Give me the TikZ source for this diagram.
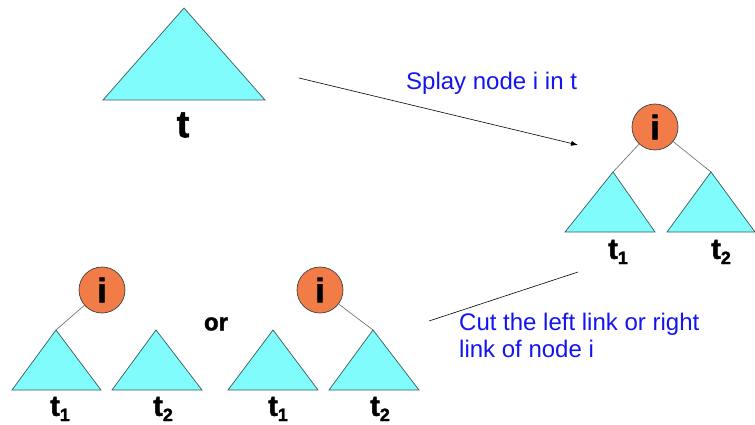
\documentclass[tikz,border=0pt]{standalone}
\usepackage{fontspec}
\setmainfont{Liberation Sans}
\newfontfamily\heavy[FakeBold=1.6]{Liberation Sans Bold}
\usetikzlibrary{arrows.meta}
\definecolor{tri}{RGB}{128,252,252}
\definecolor{triline}{RGB}{60,90,90}
\definecolor{org}{RGB}{242,124,72}
\definecolor{txtblue}{RGB}{20,20,240}
\newcommand{\tsub}[1]{t\raisebox{-0.18em}{\fontsize{18}{18}\selectfont #1}}
\begin{document}
\begin{tikzpicture}[x=1pt,y=-1pt,
  trishape/.style={fill=tri,draw=triline,line width=0.7pt},
  inode/.style={circle,fill=org,draw=black!75,line width=0.7pt,minimum size=46pt,inner sep=0pt,font=\fontsize{34}{34}\selectfont\heavy},
  tlab/.style={font=\fontsize{29}{29}\selectfont\heavy,inner sep=0pt},
  link/.style={draw=black!60,line width=0.6pt},
  bluetxt/.style={text=txtblue,font=\fontsize{24}{27}\selectfont,inner sep=0pt}]
\useasboundingbox (0,0) rectangle (755,425);
% top tree t
\coordinate (ta) at (184,8);
\fill[trishape] (ta) -- (103,100) -- (265,100) -- cycle;
\node[tlab,font=\fontsize{38}{38}\selectfont\heavy] (tl) at (183,125) {t};
% arrow
\coordinate (a1) at (299,78);
\coordinate (a2) at (578,145);
\draw[-{Latex[length=7pt,width=5pt]},line width=0.6pt] (a1) -- (a2);
\node[bluetxt,anchor=west] (splay) at (406,83) {Splay node i in t};
% right tree
\node[inode] (ir) at (655,127) {i};
\coordinate (r1) at (613,172);
\coordinate (r2) at (711,172);
\draw[link] (ir) -- (r1);
\draw[link] (ir) -- (r2);
\fill[trishape] (r1) -- (565,232) -- (655,232) -- cycle;
\fill[trishape] (r2) -- (667,232) -- (755,232) -- cycle;
\node[tlab] (rt1) at (618,252) {\tsub{1}};
\node[tlab] (rt2) at (721,252) {\tsub{2}};
% second connector
\coordinate (c1) at (578,272);
\coordinate (c2) at (429,321);
\draw[line width=0.6pt] (c1) -- (c2);
\node[bluetxt,anchor=north west,align=left] (cut) at (459,313) {Cut the left link or right\\link of node i};
% bottom left
\node[inode] (il) at (102,290) {i};
\coordinate (l1) at (56,330);
\coordinate (l2) at (156,330);
\draw[link] (il) -- (l1);
\fill[trishape] (l1) -- (12,390) -- (101,390) -- cycle;
\fill[trishape] (l2) -- (112,390) -- (202,390) -- cycle;
\node[tlab] (lt1) at (60,409) {\tsub{1}};
\node[tlab] (lt2) at (163,409) {\tsub{2}};
\node[font=\fontsize{24}{24}\selectfont\heavy,inner sep=0pt] (or) at (216,324) {or};
% bottom right
\node[inode] (im) at (320,290) {i};
\coordinate (m1) at (273,330);
\coordinate (m2) at (373,330);
\draw[link] (im) -- (m2);
\fill[trishape] (m1) -- (228,390) -- (318,390) -- cycle;
\fill[trishape] (m2) -- (329,390) -- (419,390) -- cycle;
\node[tlab] (mt1) at (278,409) {\tsub{1}};
\node[tlab] (mt2) at (380,409) {\tsub{2}};
\end{tikzpicture}
\end{document}
